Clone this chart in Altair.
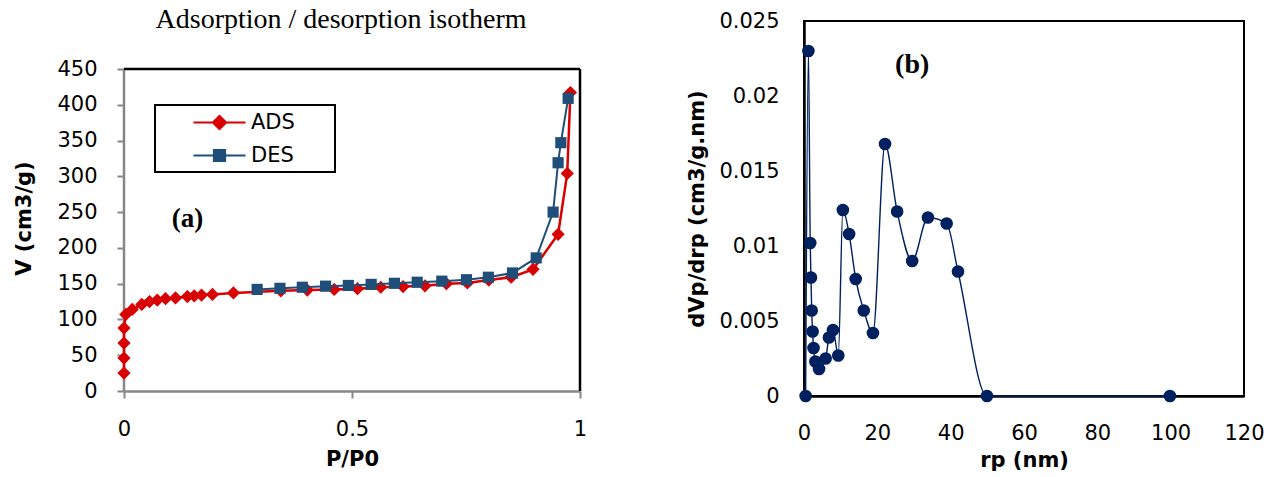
import altair as alt
import pandas as pd

# ---------------- data: panel (a) ----------------
ads_p = [0.0, 0.0, 0.0, 0.0, 0.004, 0.018, 0.039, 0.056, 0.073, 0.091, 0.113, 0.139, 0.154, 0.170,
         0.194, 0.240, 0.344, 0.402, 0.461, 0.512, 0.563, 0.612, 0.660, 0.707, 0.753, 0.800,
         0.849, 0.897, 0.952, 0.972, 0.979]
ads_v = [25, 46, 67, 88, 107, 114, 121, 125, 127, 129, 130, 132, 133, 134,
         135, 137, 140, 141, 142, 143, 145, 146, 147, 150, 151, 155, 159, 170, 219, 304, 417]
des_p = [0.292, 0.342, 0.391, 0.442, 0.492, 0.542, 0.593, 0.643, 0.697, 0.751, 0.799,
         0.852, 0.904, 0.941, 0.952, 0.958, 0.974]
des_v = [142, 143.5, 145, 146.5, 147.5, 149, 150.5, 152, 153.5, 155.5, 159, 165, 186,
         250, 319, 347, 409]
series_names = ["ADS", "DES"]
series_colors = ["#d80000", "#1f4e79"]
label_a = ["(a)"]
label_a_p = [0.139]
label_a_v = [240]
p_range = [0, 1]
v_range = [0, 450]
v_ticks = [0, 50, 100, 150, 200, 250, 300, 350, 400, 450]
p_ticks = [0, 0.5, 1]

# ---------------- data: panel (b) ----------------
rp = [0.45, 1.2, 1.7, 1.9, 2.1, 2.35, 2.6, 3.1, 4.1, 5.9, 6.8, 7.9, 9.35, 10.6, 12.3, 14.1,
      16.3, 18.8, 22.1, 25.4, 29.5, 33.8, 38.9, 42.0, 49.9, 99.8]
dvdr = [0.0, 0.0230, 0.0102, 0.0079, 0.0057, 0.0043, 0.0032, 0.0023, 0.0018, 0.0025, 0.0039,
        0.0044, 0.0027, 0.0124, 0.0108, 0.0078, 0.0057, 0.0042, 0.0168, 0.0123, 0.0090,
        0.0119, 0.0115, 0.0083, 0.0, 0.0]
label_b = ["(b)"]
label_b_x = [29.5]
label_b_y = [0.0221]
rp_ticks = [0, 20, 40, 60, 80, 100, 120]
d_ticks = [0, 0.005, 0.01, 0.015, 0.02, 0.025]

FONT = "DejaVu Sans"
SERIF = "Liberation Serif"
FS = 21
RED, BLUE = series_colors
NAVY = "#002060"
GRAY = "#878787"

# panel (a) plot frame is 322 px tall; its view is made 370 px tall so the
# panel title can sit inside the space above the frame (as in the reference)
A_W, A_FRAME_H, A_VIEW_H = 456, 322, 370
v_view_top = v_range[1] * A_VIEW_H / A_FRAME_H

ads_df = pd.DataFrame({"p": ads_p, "v": ads_v, "i": list(range(len(ads_p)))})
des_df = pd.DataFrame({"p": des_p, "v": des_v, "i": list(range(len(des_p)))})

xa = alt.X("p:Q", scale=alt.Scale(domain=p_range, nice=False),
           axis=alt.Axis(title="P/P0", values=p_ticks, format="~g", grid=False,
                         domainColor=GRAY, domainWidth=2.5, tickColor=GRAY, tickWidth=2,
                         tickSize=7, labelPadding=20, labelFont=FONT, labelFontSize=FS,
                         labelColor="black", labelOverlap=False, labelFlush=False,
                         titleFont=FONT, titleFontSize=FS, titleFontWeight="bold",
                         titleColor="black", titlePadding=9))
ya = alt.Y("v:Q", scale=alt.Scale(domain=[v_range[0], v_view_top], nice=False),
           axis=alt.Axis(title="V (cm3/g)", values=v_ticks, grid=False, domain=False,
                         tickColor=GRAY, tickWidth=2, tickSize=7, labelPadding=20,
                         labelFont=FONT, labelFontSize=FS, labelColor="black",
                         labelOverlap=False, labelFlush=False, titleFont=FONT,
                         titleFontSize=FS, titleFontWeight="bold", titleColor="black",
                         titlePadding=22, titleY=A_VIEW_H - A_FRAME_H / 2 - 12))

# frame of panel (a): gray left axis line, black top and right edges
frame_left = alt.Chart(pd.DataFrame({"p": [p_range[0]], "v": [v_range[0]], "v2": [v_range[1]]})).mark_rule(
    color=GRAY, strokeWidth=2.5).encode(x=xa, y=ya, y2="v2:Q")
frame_right = alt.Chart(pd.DataFrame({"p": [p_range[1]], "v": [v_range[0]], "v2": [v_range[1]]})).mark_rule(
    color="black", strokeWidth=2.5).encode(x=xa, y=ya, y2="v2:Q")
frame_top = alt.Chart(pd.DataFrame({"p": [p_range[0]], "p2": [p_range[1]], "v": [v_range[1]]})).mark_rule(
    color="black", strokeWidth=2.5).encode(x=xa, x2="p2:Q", y=ya)

line_ads = alt.Chart(ads_df).mark_line(color=RED, strokeWidth=2.5).encode(x=xa, y=ya, order="i:Q")
pts_ads = alt.Chart(ads_df).mark_point(shape="diamond", filled=True, color=RED, size=175,
                                       opacity=1).encode(x=xa, y=ya)
line_des = alt.Chart(des_df).mark_line(color=BLUE, strokeWidth=2).encode(x=xa, y=ya, order="i:Q")
pts_des = alt.Chart(des_df).mark_point(shape="square", filled=True, color=BLUE, size=125,
                                       opacity=1).encode(x=xa, y=ya)

leg_paths = ["M-2.6,0L2.6,0M0,-0.65L0.65,0L0,0.65L-0.65,0ZM10.5,0",
             "M-2.6,0L2.6,0M-0.55,-0.55L0.55,-0.55L0.55,0.55L-0.55,0.55ZM10.5,0"]
leg = alt.Legend(title=None, orient="none", legendX=31, legendY=84, strokeColor="black",
                 padding=6, symbolSize=400, symbolStrokeWidth=2.2, labelFont=FONT,
                 labelFontSize=FS, labelColor="black", rowPadding=10, labelOffset=20,
                 symbolOffset=47)
leg_df = pd.DataFrame({"series": series_names})
legend_layer = alt.Chart(leg_df).transform_filter("false").mark_point(filled=True, opacity=1).encode(
    x=xa, y=ya,
    fill=alt.Fill("series:N", scale=alt.Scale(domain=series_names, range=series_colors), legend=leg),
    stroke=alt.Stroke("series:N", scale=alt.Scale(domain=series_names, range=series_colors), legend=leg),
    shape=alt.Shape("series:N", scale=alt.Scale(domain=series_names, range=leg_paths), legend=leg),
)

text_a = alt.Chart(pd.DataFrame({"t": label_a, "p": label_a_p, "v": label_a_v})).mark_text(
    font=SERIF, fontSize=27, fontWeight="bold", color="black").encode(x=xa, y=ya, text="t:N")

left = alt.layer(frame_left, frame_right, frame_top, line_ads, pts_ads, line_des, pts_des,
                 legend_layer, text_a).properties(
    width=A_W, height=A_VIEW_H, view=alt.ViewBackground(strokeWidth=0),
    title=alt.TitleParams("Adsorption / desorption isotherm", font=SERIF,
                          fontSize=28, fontWeight="normal", color="black", offset=-13, dx=-11))

# ---------------- panel (b) ----------------
b_df = pd.DataFrame({"rp": rp, "d": dvdr, "i": list(range(len(rp)))})
xb = alt.X("rp:Q", scale=alt.Scale(domain=[rp_ticks[0], rp_ticks[-1]], nice=False),
           axis=alt.Axis(title="rp (nm)", values=rp_ticks, grid=False,
                         domainColor="black", domainWidth=2.5, ticks=False, labelPadding=26,
                         labelFont=FONT, labelFontSize=FS, labelColor="black",
                         labelOverlap=False, labelFlush=False, titleFont=FONT,
                         titleFontSize=FS, titleFontWeight="bold", titleColor="black",
                         titlePadding=6))
yb = alt.Y("d:Q", scale=alt.Scale(domain=[d_ticks[0], d_ticks[-1]], nice=False),
           axis=alt.Axis(title="dVp/drp (cm3/g.nm)", values=d_ticks,
                         format="~g", grid=False, domainColor="black", domainWidth=2.5,
                         ticks=False, labelPadding=25, labelFont=FONT, labelFontSize=FS,
                         labelColor="black", labelOverlap=False, labelFlush=False,
                         titleFont=FONT, titleFontSize=FS, titleFontWeight="bold",
                         titleColor="black", titlePadding=11))
line_b = alt.Chart(b_df).mark_line(color=NAVY, strokeWidth=1.4, interpolate="monotone").encode(
    x=xb, y=yb, order="i:Q")
pts_b = alt.Chart(b_df).mark_circle(color=NAVY, size=160, opacity=1).encode(x=xb, y=yb)
text_b = alt.Chart(pd.DataFrame({"t": label_b, "rp": label_b_x, "d": label_b_y})).mark_text(
    font=SERIF, fontSize=28, fontWeight="bold", color="black").encode(x=xb, y=yb, text="t:N")
right = alt.layer(line_b, pts_b, text_b).properties(
    width=440, height=375, view=alt.ViewBackground(stroke="black", strokeWidth=2))

chart = alt.hconcat(left, right, spacing=98).properties(
    padding={"left": 13, "top": 6, "right": 5, "bottom": 5}
).configure_legend(strokeWidth=2)

chart.save("out.html", embed_options={"renderer": "svg", "actions": False})
